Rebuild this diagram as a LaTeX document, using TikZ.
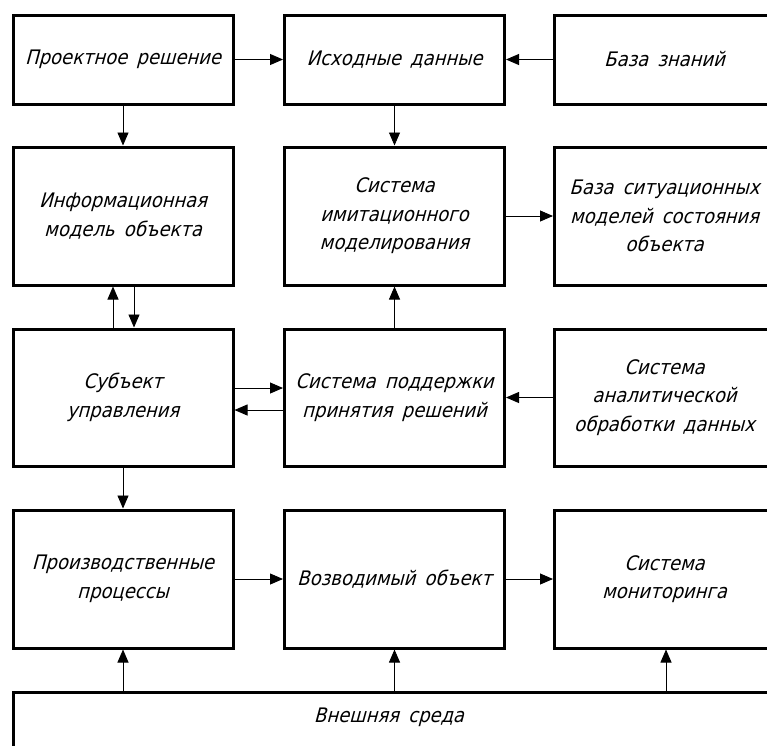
\documentclass[tikz,border=0pt]{standalone}
\usepackage{fontspec}
\setmainfont{DejaVu Sans Condensed}[ItalicFont={DejaVu Sans Condensed},ItalicFeatures={FakeSlant=0.27},WordSpace=1.6]
\usetikzlibrary{arrows.meta}

\tikzset{
  blk/.style={draw=black, line width=3pt, fill=white, rectangle,
    minimum width=220pt, inner sep=0pt, align=center,
    font=\fontsize{20}{28.5}\selectfont\itshape},
  lbl/.style={font=\fontsize{20}{28.5}\selectfont\itshape},
  conn/.style={line width=0.9pt, -{Triangle[length=13pt,width=11pt]}},
}

\begin{document}
\begin{tikzpicture}[x=1pt,y=-1pt]
  \useasboundingbox (0,0) rectangle (767,745);
  \clip (0,0) rectangle (767,745);

  % first row
  \node[blk, minimum height=89pt] (A1) at (123,59.5) {Проектное решение};
  \node[blk, minimum height=89pt] (A2) at (394.5,59.5) {Исходные данные};
  \node[blk, minimum height=89pt] (A3) at (664.5,59.5) {База знаний};

  % second row
  \node[blk, minimum height=138pt] (B1) at (123,216) {Информационная\\модель объекта};
  \node[blk, minimum height=138pt] (B2) at (394.5,216) {Система\\имитационного\\моделирования};
  \node[blk, minimum height=138pt] (B3) at (664.5,216) {База ситуационных\\моделей состояния\\объекта};

  % third row
  \node[blk, minimum height=137pt] (C1) at (123,397.5) {Субъект\\управления};
  \node[blk, minimum height=137pt] (C2) at (394.5,397.5) {Система поддержки\\принятия решений};
  \node[blk, minimum height=137pt] (C3) at (664.5,397.5) {Система\\аналитической\\обработки данных};

  % fourth row
  \node[blk, minimum height=138pt] (D1) at (123,579) {Производственные\\процессы};
  \node[blk, minimum height=138pt] (D2) at (394.5,579) {Возводимый объект};
  \node[blk, minimum height=138pt] (D3) at (664.5,579) {Система\\мониторинга};

  % environment strip along the bottom
  \node[blk, minimum width=761pt, minimum height=110pt] (E) at (393.5,747) {};
  \node[lbl] (Et) at (389,717) {Внешняя среда};

  % connectors
  \draw[conn] (A1) -- (A2);
  \draw[conn] (A3) -- (A2);
  \draw[conn] (A1) -- (B1);
  \draw[conn] (A2) -- (B2);
  \draw[conn] (B2) -- (B3);
  \draw[conn] ([xshift=-10pt]C1.north) -- ([xshift=-10pt]B1.south);
  \draw[conn] ([xshift=11pt]B1.south) -- ([xshift=11pt]C1.north);
  \draw[conn] (C2) -- (B2);
  \draw[conn] ([yshift=9.5pt]C1.east) -- ([yshift=9.5pt]C2.west);
  \draw[conn] ([yshift=-12.5pt]C2.west) -- ([yshift=-12.5pt]C1.east);
  \draw[conn] (C3) -- (C2);
  \draw[conn] (C1) -- (D1);
  \draw[conn] (D1) -- (D2);
  \draw[conn] (D2) -- (D3);
  \draw[conn] (E.north -| D1.south) -- (D1.south);
  \draw[conn] (E.north -| D2.south) -- (D2.south);
  \draw[conn] ([xshift=1.5pt]E.north -| D3.south) -- ([xshift=1.5pt]D3.south);
\end{tikzpicture}
\end{document}
